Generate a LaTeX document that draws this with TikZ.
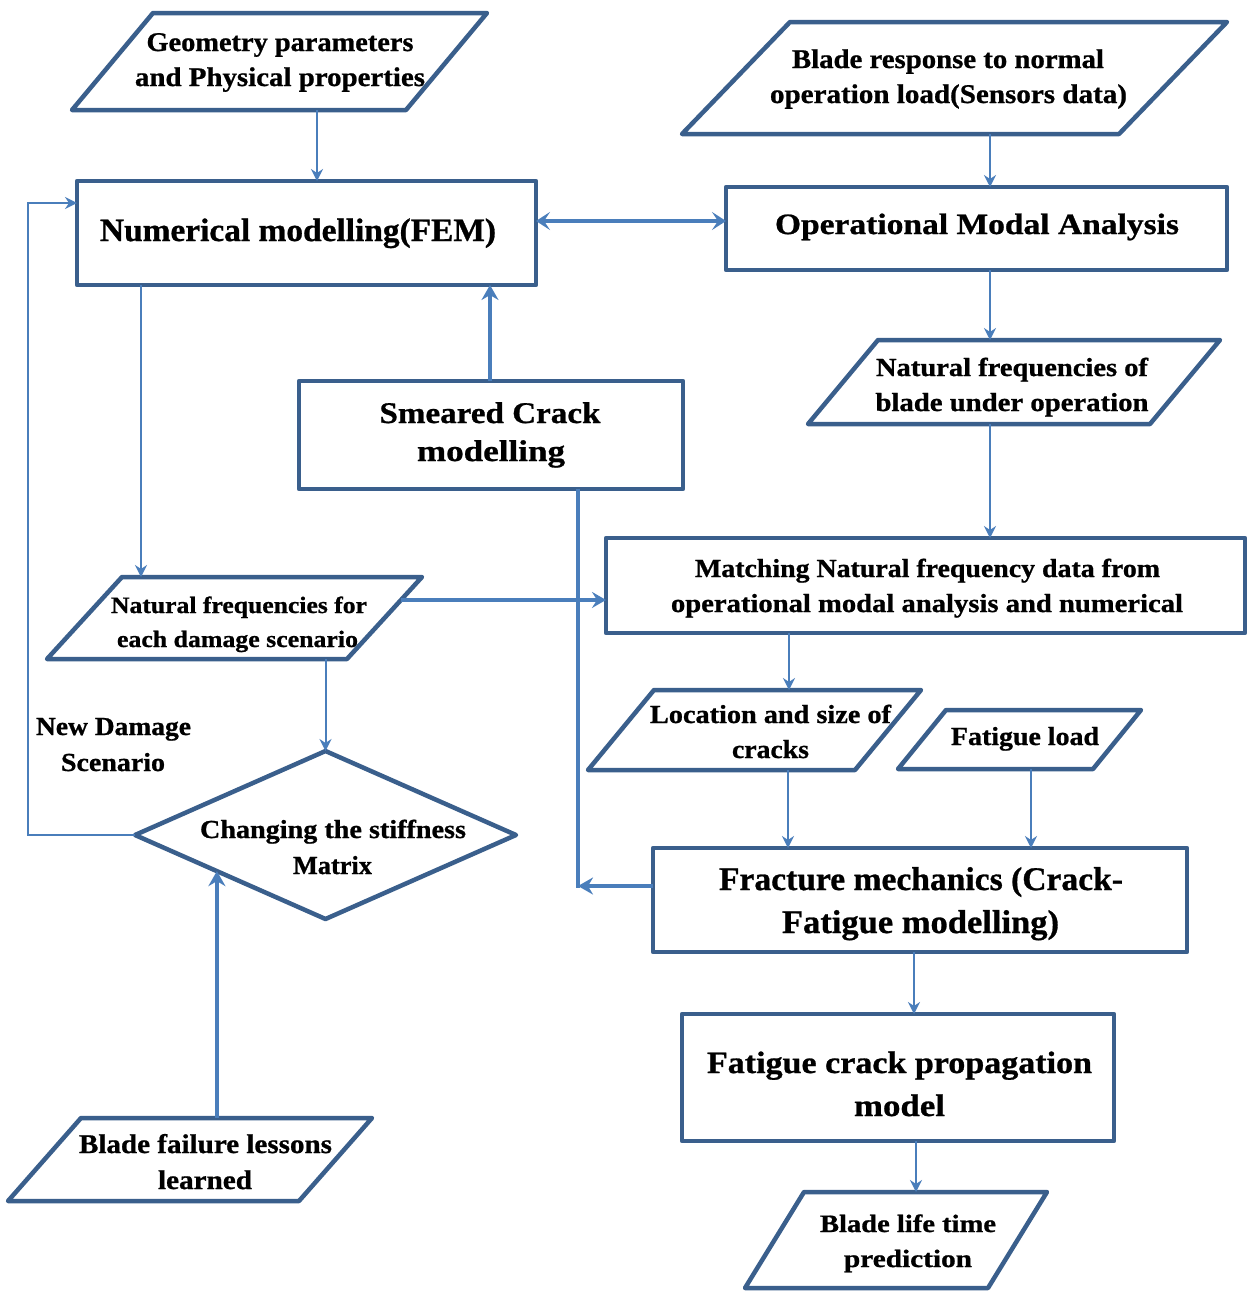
\documentclass[tikz,border=0pt]{standalone}
\usepackage{fontspec}
\setmainfont{Liberation Serif}[BoldFeatures={FakeBold=0.8}]
\usepackage{graphicx}
\usetikzlibrary{arrows.meta,calc}
\definecolor{boxc}{HTML}{3A5F8C}
\definecolor{conc}{HTML}{4A7EBB}
\tikzset{
  frame/.style={draw=boxc,line width=4.5pt,line join=round},
  ghost/.style={inner sep=0pt,outer sep=0pt},
  txt/.style={inner sep=0pt,outer sep=0pt,anchor=base,text=black},
  thinc/.style={draw=conc,line width=2pt,-{Stealth[length=12pt,width=12pt,inset=4pt]}},
  medc/.style={draw=conc,line width=3.5pt,-{Stealth[length=14pt,width=16pt,inset=5pt]}},
  thickc/.style={draw=conc,line width=4.3pt,-{Stealth[length=15pt,width=17pt,inset=5pt]}},
  thickl/.style={draw=conc,line width=4.3pt},
  dblc/.style={draw=conc,line width=4pt,{Stealth[length=14pt,width=18pt,inset=6pt]}-{Stealth[length=14pt,width=18pt,inset=6pt]}}
}
\newcommand\tline[6]{\node[txt,font=\fontsize{#4pt}{#4pt}\selectfont\bfseries] (#1) at (#2,#3) {\resizebox{#5pt}{\height}{#6}};}
\newcommand\pgram[6]{%
  \node[ghost,minimum width=#4pt,minimum height=#5pt] (#1) at (#2,#3) {};
  \draw[frame] ([xshift=#6pt]#1.north west) -- (#1.north east) -- ([xshift=-#6pt]#1.south east) -- (#1.south west) -- cycle;}
\newcommand\rbox[5]{\node[ghost,frame,minimum width=#4pt,minimum height=#5pt] (#1) at (#2,#3) {};}
\begin{document}
\begin{tikzpicture}[x=1pt,y=-1pt]
\useasboundingbox[fill=white] (0,0) rectangle (1248,1291);
% boxes
\rbox{num}{306.5}{233}{459}{104}
\rbox{oma}{976.5}{228.5}{501}{83}
\rbox{smear}{491}{435}{384}{108}
\rbox{match}{925.5}{585.5}{639}{95}
\rbox{frac}{920}{900}{534}{104}
\rbox{fcp}{898}{1077.5}{432}{127}
% parallelograms
\pgram{geo}{279.5}{61.5}{415}{97}{81}
\pgram{bresp}{954.5}{78}{545}{112}{108}
\pgram{nfop}{1014}{382}{412}{84}{70}
\pgram{nfdam}{234.5}{618}{375}{82}{75}
\pgram{loc}{754.5}{730}{333}{80}{66}
\pgram{fload}{1019.5}{739.5}{243}{59}{48}
\pgram{bfail}{190}{1159.5}{364}{83}{73}
\pgram{blife}{896}{1240}{302}{96}{59}
% diamond
\node[ghost,minimum width=381pt,minimum height=168pt] (diam) at (325.5,835) {};
\draw[frame] (diam.west) -- (diam.north) -- (diam.east) -- (diam.south) -- cycle;
% texts
\tline{geoA}{280}{51}{27}{267}{Geometry parameters}
\tline{geoB}{280}{86}{27}{290}{and Physical properties}
\tline{numA}{298}{241}{32.5}{396}{Numerical modelling(FEM)}
\tline{brA}{948}{68}{27}{312}{Blade response to normal}
\tline{brB}{948.5}{103}{27}{357}{operation load(Sensors data)}
\tline{omaA}{977}{234}{29.5}{404}{Operational Modal Analysis}
\tline{nfoA}{1012}{376}{26}{272}{Natural frequencies of}
\tline{nfoB}{1012}{411}{26}{273}{blade under operation}
\tline{smA}{490}{423}{30}{221}{Smeared Crack}
\tline{smB}{491}{461}{30}{148}{modelling}
\tline{maA}{927.5}{577}{26}{465}{Matching Natural frequency data from}
\tline{maB}{927}{612}{26}{512}{operational modal analysis and numerical}
\tline{ndA}{239}{613}{23.5}{256}{Natural frequencies for}
\tline{ndB}{237.5}{647}{23.5}{241}{each damage scenario}
\tline{newA}{113.5}{735}{26}{155}{New Damage}
\tline{newB}{113}{771}{26}{104}{Scenario}
\tline{diA}{333}{838}{26}{266}{Changing the stiffness}
\tline{diB}{332.5}{874}{26}{79}{Matrix}
\tline{loA}{770.5}{723}{26}{241}{Location and size of}
\tline{loB}{770.5}{758}{26}{77}{cracks}
\tline{flA}{1025}{745}{26}{148}{Fatigue load}
\tline{frA}{921}{890}{33}{404}{Fracture mechanics (Crack-}
\tline{frB}{920.5}{933}{33}{277}{Fatigue modelling)}
\tline{fcA}{899.5}{1073}{31}{385}{Fatigue crack propagation}
\tline{fcB}{899.5}{1116}{31}{91}{model}
\tline{bfA}{205.5}{1153}{27}{253}{Blade failure lessons}
\tline{bfB}{205}{1189}{27}{94}{learned}
\tline{blA}{908}{1232}{25}{176}{Blade life time}
\tline{blB}{908}{1267}{25}{128}{prediction}
% connectors
\draw[thinc] (geo.south -| 317,0) -- (num.north -| 317,0);
\draw[thinc] (bresp.south -| 990,0) -- (oma.north -| 990,0);
\draw[dblc] (num.east |- 0,221) -- (oma.west |- 0,221);
\draw[thinc] (oma.south -| 990,0) -- (nfop.north -| 990,0);
\draw[thinc] (nfop.south -| 990,0) -- (match.north -| 990,0);
\draw[thickc] (smear.north -| 490,0) -- (num.south -| 490,0);
\draw[thinc] (num.south -| 141,0) -- (nfdam.north -| 141,0);
\coordinate (nfdR) at ($(nfdam.north east)!0.28!([xshift=-75pt]nfdam.south east)$);
\draw[medc] (nfdR) -- (nfdR -| match.west);
\coordinate (smj) at (578,886);
\draw[thickl] (smear.south -| smj) -- ([yshift=-2pt]smj);
\draw[thickc] (frac.west |- smj) -- (smj);
\draw[thinc] (nfdam.south -| diam.north) -- (diam.north);
\coordinate (lpB) at (28,835);
\coordinate (lpT) at (28,203);
\draw[thinc] (diam.west) -- (lpB) -- (lpT) -- (lpT -| num.west);
\coordinate (dedge) at ($(diam.west)!0.43!(diam.south)$);
\draw[thickc] (bfail.north -| dedge) -- (dedge);
\draw[thinc] (match.south -| 789,0) -- (loc.north -| 789,0);
\draw[thinc] (loc.south -| 788,0) -- (frac.north -| 788,0);
\draw[thinc] (fload.south -| 1031,0) -- (frac.north -| 1031,0);
\draw[thinc] (frac.south -| 914,0) -- (fcp.north -| 914,0);
\draw[thinc] (fcp.south -| 916,0) -- (blife.north -| 916,0);
\end{tikzpicture}
\end{document}
